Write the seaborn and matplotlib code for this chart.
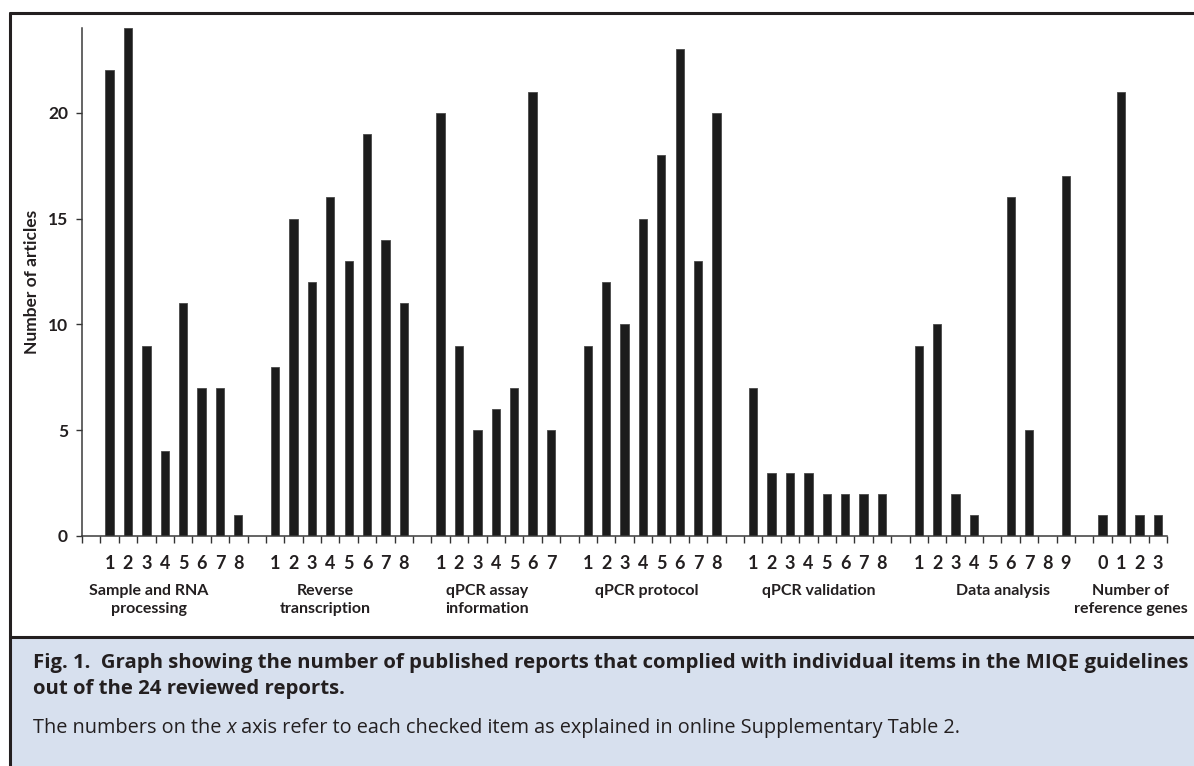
import numpy as np
import pandas as pd
import seaborn as sns
import matplotlib.pyplot as plt
from matplotlib.patches import Rectangle
from matplotlib.lines import Line2D

# item counts per MIQE section (number of articles out of 24)
group_names = ["Sample and RNA\nprocessing", "Reverse\ntranscription", "qPCR assay\ninformation",
               "qPCR protocol", "qPCR validation", "Data analysis", "Number of\nreference genes"]
sample_rna = [22, 24, 9, 4, 11, 7, 7, 1]
reverse_tr = [8, 15, 12, 16, 13, 19, 14, 11]
assay_info = [20, 9, 5, 6, 7, 21, 5]
protocol = [9, 12, 10, 15, 18, 23, 13, 20]
validation = [7, 3, 3, 3, 2, 2, 2, 2]
data_analysis = [9, 10, 2, 1, 0, 16, 5, 0, 17]
ref_genes = [1, 21, 1, 1]

items_sample = ["1", "2", "3", "4", "5", "6", "7", "8"]
items_reverse = ["1", "2", "3", "4", "5", "6", "7", "8"]
items_assay = ["1", "2", "3", "4", "5", "6", "7"]
items_protocol = ["1", "2", "3", "4", "5", "6", "7", "8"]
items_validation = ["1", "2", "3", "4", "5", "6", "7", "8"]
items_analysis = ["1", "2", "3", "4", "5", "6", "7", "8", "9"]
items_ref = ["0", "1", "2", "3"]

y_ticks = [0, 5, 10, 15, 20]

# layout only: where the group captions sit (in slot units)
group_label_x = [3.14, 12.71, 21.52, 30.22, 39.58, 49.58, 56.54]

all_values = [sample_rna, reverse_tr, assay_info, protocol, validation, data_analysis, ref_genes]
all_items = [items_sample, items_reverse, items_assay, items_protocol, items_validation,
             items_analysis, items_ref]

# build slot order with an empty slot before each group
rows = []
order = []
tick_labels = []
for g, (vals, items) in enumerate(zip(all_values, all_items)):
    order.append(f"gap{g}")
    tick_labels.append("")
    for it, v in zip(items, vals):
        key = f"g{g}-{it}"
        order.append(key)
        tick_labels.append(it)
        rows.append({"slot": key, "count": v})
df = pd.DataFrame(rows)

sns.set_style("white")
plt.rcParams["font.family"] = ["Lato", "DejaVu Sans"]
ink = "#231f20"

W, H = 1194, 766
fig = plt.figure(figsize=(W / 100, H / 100), dpi=100)
ax = fig.add_axes([82 / W, 1 - 536 / H, (1167 - 82) / W, (536 - 28) / H])

sns.barplot(data=df, x="slot", y="count", order=order, color="#1c1c1c",
            saturation=1, width=0.45, edgecolor="#4a4a4a", linewidth=0.6, ax=ax)

n = len(order)
ax.set_xlim(-0.5, n - 0.5)
ax.set_ylim(0, 24)
ax.set_xlabel("")

# tick marks between slots, numbers under bars
ax.set_xticks(np.arange(-0.5, n, 1.0))
ax.set_xticklabels([])
pos = [i for i, t in enumerate(tick_labels) if t]
ax.set_xticks(pos, [t for t in tick_labels if t], minor=True)
ax.tick_params(axis="x", which="major", direction="out", length=5, width=1, color="#333333", bottom=True)
ax.tick_params(axis="x", which="minor", length=0, pad=14, labelsize=13)
for lab in ax.get_xticklabels(minor=True):
    lab.set_fontweight("bold")
    lab.set_color(ink)

ax.set_yticks(y_ticks)
ax.set_yticklabels([str(t) for t in y_ticks], fontweight="bold", color=ink)
ax.tick_params(axis="y", direction="out", length=4, width=1, color="#333333", left=True, labelsize=12.5, pad=6)

ax.set_ylabel("Number of articles", fontweight="bold", fontsize=12.5, color=ink)
ax.yaxis.set_label_coords(-0.046, 0.5)
ax.yaxis.label.set_va("center")

sns.despine(ax=ax)
for s in ["left", "bottom"]:
    ax.spines[s].set_color("#3a3a3a")
    ax.spines[s].set_linewidth(1.1)

for name, x in zip(group_names, group_label_x):
    ax.text(x, -(584 - 536) / 508, name, transform=ax.get_xaxis_transform(), ha="center", va="top",
            fontsize=11.5, fontweight="bold", color=ink, linespacing=1.38)

# outer frame and caption box
fig.add_artist(Rectangle((10 / W, 0), 1 - 10 / W, (H - 637) / H, transform=fig.transFigure,
                         facecolor="#d7e0ee", edgecolor="none", zorder=0))
fig.add_artist(Line2D([10 / W, 1], [1 - 13 / H, 1 - 13 / H], transform=fig.transFigure, color=ink, lw=2.2))
fig.add_artist(Line2D([10 / W, 10 / W], [0, 1 - 13 / H], transform=fig.transFigure, color=ink, lw=2.2))
fig.add_artist(Line2D([10 / W, 1], [1 - 637 / H, 1 - 637 / H], transform=fig.transFigure, color=ink, lw=2.2))

cap_font = ["Open Sans", "DejaVu Sans"]
fig.text(33 / W, 1 - 663 / H,
         "Fig. 1.  Graph showing the number of published reports that complied with individual items in the MIQE guidelines",
         ha="left", va="center", fontsize=14.7, fontweight="bold", color=ink, family=cap_font)
fig.text(33 / W, 1 - 689 / H, "out of the 24 reviewed reports.",
         ha="left", va="center", fontsize=14.7, fontweight="bold", color=ink, family=cap_font)
t1 = fig.text(33 / W, 1 - 738 / H, "The numbers on the ", ha="left", va="bottom",
              fontsize=14.3, color=ink, family=cap_font)
t2 = ax.annotate("x", xy=(1, 0), xycoords=t1, ha="left", va="bottom", fontsize=14.3,
                 style="italic", color=ink, family=cap_font, annotation_clip=False)
ax.annotate(" axis refer to each checked item as explained in online Supplementary Table 2.",
            xy=(1, 0), xycoords=t2, ha="left", va="bottom", fontsize=14.3, color=ink,
            family=cap_font, annotation_clip=False)

fig.savefig("out.png", dpi=100)
